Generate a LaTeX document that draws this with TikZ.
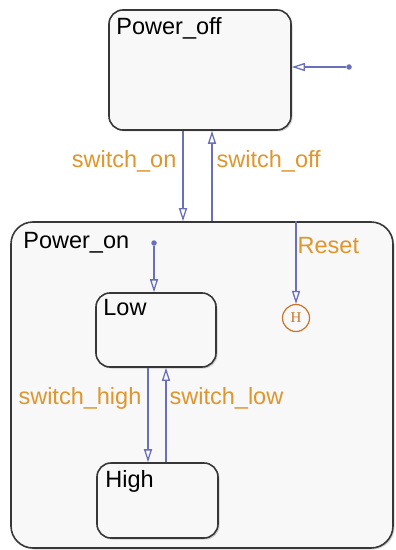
\documentclass[tikz,border=0pt]{standalone}
\usepackage{fontspec}
\setmainfont{Liberation Sans}
\newfontfamily\histfont{Liberation Serif}
\usetikzlibrary{positioning,arrows.meta,shadows}

\definecolor{stateline}{RGB}{55,55,55}
\definecolor{statefill}{RGB}{248,248,248}
\definecolor{transline}{RGB}{105,112,185}
\definecolor{translabel}{RGB}{222,150,45}
\definecolor{histline}{RGB}{205,115,40}

\begin{document}
\begin{tikzpicture}[x=1bp, y=-1bp,
  every node/.style={font=\fontsize{23.5bp}{28bp}\selectfont},
  chartstate/.style={draw=stateline, line width=1.6bp, fill=statefill, rounded corners=14bp, inner sep=0pt,
    drop shadow={opacity=0.35, shadow xshift=1.5bp, shadow yshift=-1.5bp}},
  title/.style={anchor=north west, inner sep=0pt, text=black},
  trans/.style={draw=transline, line width=1.3bp, -{Triangle[open, length=13bp, width=8bp]}},
  translbl/.style={text=translabel, inner sep=1bp},
  defdot/.style={circle, fill=transline, inner sep=0pt, minimum size=5.5bp}]
\useasboundingbox (0,0) rectangle (395,550);

% outer states
\node[chartstate, minimum width=182bp, minimum height=120bp,
  label={[title, xshift=8bp, yshift=-8bp]north west:Power\_off}] (poweroff) at (200,70) {};
\node[chartstate, rounded corners=22bp, minimum width=382bp, minimum height=326bp,
  label={[title, xshift=13bp, yshift=-11bp]north west:Power\_on}] (poweron) at (202,385) {};

% substates of Power_on
\node[chartstate, minimum width=120bp, minimum height=74bp,
  label={[title, xshift=8bp, yshift=-7bp]north west:Low}] (low) at (156,330) {};
\node[chartstate, minimum width=121bp, minimum height=75bp,
  label={[title, xshift=9bp, yshift=-8bp]north west:High}] (high) at (157.5,500.5) {};
\node[circle, draw=histline, line width=1.2bp, minimum size=27bp, inner sep=0pt,
  font=\fontsize{15bp}{17bp}\histfont, text=histline] (hist) at (296,318) {H};

% default transitions
\node[defdot] (offdot) at (349,67) {};
\node[defdot] (ondot) at (154,243) {};
\draw[trans] (offdot) -- (offdot -| poweroff.east);
\draw[trans] (ondot) -- (ondot |- low.north);

% transitions
\draw[trans] ([xshift=-17bp]poweroff.south) -- ([xshift=-17bp]poweroff.south |- poweron.north)
  node[translbl, pos=0.34, left=5bp] {switch\_on};
\draw[trans] ([xshift=12bp]poweroff.south |- poweron.north) -- ([xshift=12bp]poweroff.south)
  node[translbl, pos=0.66, right=3bp] {switch\_off};
\draw[trans] (hist.north |- poweron.north) -- (hist.north)
  node[translbl, pos=0.3, right=0bp] {Reset};
\draw[trans] ([xshift=-8bp]low.south) -- ([xshift=-8bp]low.south |- high.north)
  node[translbl, pos=0.32, left=5bp] {switch\_high};
\draw[trans] ([xshift=10bp]low.south |- high.north) -- ([xshift=10bp]low.south)
  node[translbl, pos=0.68, right=2bp] {switch\_low};
\end{tikzpicture}
\end{document}
